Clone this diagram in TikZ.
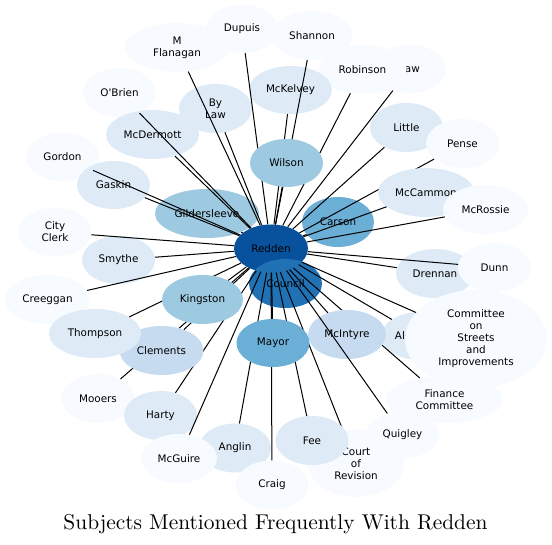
\documentclass[tikz,border=0pt]{standalone}
\usepackage{fontspec}
\newfontfamily\subjfont{DejaVu Sans}
\usetikzlibrary{shapes.geometric}
\definecolor{bla}{HTML}{F7FBFF}
\definecolor{blb}{HTML}{DEEBF7}
\definecolor{blc}{HTML}{C6DBEF}
\definecolor{bld}{HTML}{9ECAE1}
\definecolor{ble}{HTML}{6BAED6}
\definecolor{blf}{HTML}{2171B5}
\definecolor{blg}{HTML}{08519C}

\begin{document}
\begin{tikzpicture}[x=1pt,y=-1pt,
    subj/.style={ellipse, inner sep=0pt, align=center, text=black,
      font=\subjfont\fontsize{10.4}{12}\selectfont},
    sz/.style 2 args={minimum width=#1pt, minimum height=#2pt},
    edge/.style={draw=black, line width=1pt}]
  \useasboundingbox (0,0) rectangle (552,545);

  % nodes lying under the connectors
  \node[subj, sz={104}{49}, fill=bld] (gild) at (207,213.5) {Gildersleeve};
  \node[subj, sz={72}{50}, fill=ble] (cars) at (338,222) {Carson};
  \node[subj, sz={73}{49}, fill=bla] (obr) at (119.5,92.5) {O'Brien};
  \node[subj, sz={93}{49}, fill=blb] (mcder) at (152.5,134.5) {McDermott};
  \node[subj, sz={73}{48}, fill=bla] (gord) at (62.5,157) {Gordon};
  \node[subj, sz={73}{48}, fill=blb] (gask) at (113.5,185) {Gaskin};
  \node[subj, sz={73}{49}, fill=bla] (clerk) at (55,232) {City\\Clerk};
  \node[subj, sz={73}{48}, fill=blb] (smy) at (118.5,260) {Smythe};
  \node[subj, sz={73}{49}, fill=blb] (bylaw) at (215.5,108.5) {By\\Law};

  \node[subj, sz={74}{48}, fill=blg] (red) at (271,248.5) {Redden};
  \node[subj, sz={73}{49}, fill=blf] (coun) at (285.5,283.5) {Council};

  \foreach \n in {gild,cars,obr,mcder,gord,gask,clerk,smy,bylaw}
    \draw[edge] (red) -- (\n);

  % the others, each with its connector
  \node[subj, sz={73}{48}, fill=bla] (law) at (409.5,69) {Law};
  \draw[edge] (red) -- (law);
  \node[subj, sz={88}{49}, fill=bla] (rob) at (362.5,69.5) {Robinson};
  \draw[edge] (red) -- (rob);
  \node[subj, sz={83}{48}, fill=blb] (mckel) at (290.5,90) {McKelvey};
  \draw[edge] (red) -- (mckel);
  \node[subj, sz={81}{49}, fill=bla] (shan) at (312,35.5) {Shannon};
  \draw[edge] (red) -- (shan);
  \node[subj, sz={73}{48}, fill=bla] (dup) at (242,29) {Dupuis};
  \draw[edge] (red) -- (dup);
  \node[subj, sz={73}{48}, fill=bld] (wil) at (286.5,163) {Wilson};
  \draw[edge] (red) -- (wil);
  \node[subj, sz={104}{49}, fill=bla] (flan) at (177,47.5) {M\\Flanagan};
  \draw[edge] (red) -- (flan);
  \node[subj, sz={73}{49}, fill=blb] (lit) at (406.5,127.5) {Little};
  \draw[edge] (red) -- (lit);
  \node[subj, sz={73}{49}, fill=bla] (pen) at (462.5,143.5) {Pense};
  \draw[edge] (red) -- (pen);
  \node[subj, sz={96}{49}, fill=blb] (mccam) at (426,192.5) {McCammon};
  \draw[edge] (red) -- (mccam);
  \node[subj, sz={85}{49}, fill=bla] (mcros) at (485.5,209.5) {McRossie};
  \draw[edge] (red) -- (mcros);
  \node[subj, sz={78}{49}, fill=blb] (dren) at (435,273.5) {Drennan};
  \draw[edge] (red) -- (dren);
  \node[subj, sz={73}{49}, fill=bla] (dunn) at (494.5,267.5) {Dunn};
  \draw[edge] (red) -- (dunn);
  \node[subj, sz={77}{48}, fill=blb] (ald) at (420,336) {Aldermen};
  \draw[edge] (red) -- (ald);
  \node[subj, sz={142}{98}, fill=bla] (comm) at (476,339) {Committee\\on\\Streets\\and\\Improvements};
  \draw[edge] (red) -- (comm);
  \node[subj, sz={117}{47}, fill=bla] (fin) at (444.5,399.5) {Finance\\Committee};
  \draw[edge] (red) -- (fin);
  \node[subj, sz={78}{49}, fill=blc] (mcint) at (347,334.5) {McIntyre};
  \draw[edge] (red) -- (mcint);
  \node[subj, sz={73}{47}, fill=bla] (quig) at (402.5,435) {Quigley};
  \draw[edge] (red) -- (quig);
  \node[subj, sz={96}{67}, fill=bla] (court) at (356,463.5) {Court\\of\\Revision};
  \draw[edge] (red) -- (court);
  \node[subj, sz={73}{49}, fill=blb] (fee) at (312,440.5) {Fee};
  \draw[edge] (red) -- (fee);
  \node[subj, sz={72}{49}, fill=blb] (anglin) at (235,448) {Anglin};
  \draw[edge] (red) -- (anglin);
  \node[subj, sz={73}{49}, fill=bla] (craig) at (272,485) {Craig};
  \draw[edge] (red) -- (craig);
  \node[subj, sz={73}{48}, fill=ble] (mayor) at (273,343) {Mayor};
  \draw[edge] (red) -- (mayor);
  \node[subj, sz={73}{49}, fill=bla] (mooers) at (98,398.5) {Mooers};
  \draw[edge] (red) -- (mooers);
  \node[subj, sz={73}{49}, fill=blb] (harty) at (160.5,415.5) {Harty};
  \draw[edge] (red) -- (harty);
  \node[subj, sz={76}{49}, fill=bla] (mcg) at (179,458.5) {McGuire};
  \draw[edge] (red) -- (mcg);
  \node[subj, sz={85}{49}, fill=bla] (cree) at (47.5,299.5) {Creeggan};
  \draw[edge] (red) -- (cree);
  \node[subj, sz={84}{49}, fill=blc] (clem) at (161.5,350.5) {Clements};
  \draw[edge] (red) -- (clem);
  \node[subj, sz={92}{49}, fill=blb] (thomp) at (95,333.5) {Thompson};
  \draw[edge] (red) -- (thomp);
  \node[subj, sz={81}{49}, fill=bld] (king) at (202.5,299.5) {Kingston};
  \draw[edge] (red) -- (king);

  \node[anchor=base, scale=2.14, font=\fontsize{10}{12}\selectfont] (title) at (275.5,529.5)
    {Subjects Mentioned Frequently With Redden};
\end{tikzpicture}
\end{document}
